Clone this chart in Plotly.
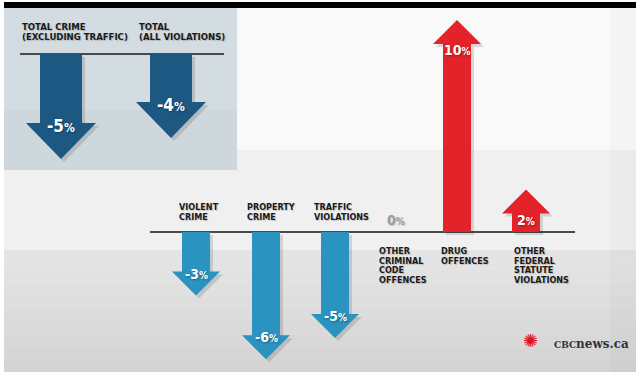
import plotly.graph_objects as go

# ---------------- data ----------------
top_categories = ["TOTAL CRIME\n(EXCLUDING TRAFFIC)", "TOTAL\n(ALL VIOLATIONS)"]
top_values = [-5, -4]

categories = [
    "VIOLENT\nCRIME",
    "PROPERTY\nCRIME",
    "TRAFFIC\nVIOLATIONS",
    "OTHER\nCRIMINAL\nCODE\nOFFENCES",
    "DRUG\nOFFENCES",
    "OTHER\nFEDERAL\nSTATUTE\nVIOLATIONS",
]
values = [-3, -6, -5, 0, 10, 2]

# ---------------- layout constants ----------------
W, H = 640, 375
x_centers = [196, 266, 335, 396, 457, 526]
label_left = [177, 245, 312, 377, 439, 512]
top_x_centers = [61, 171]
top_label_left = [20, 137]

MAIN_BASE_PX, MAIN_SCALE = 232, 21.2   # pixel row of 0 %, px per %
TOP_BASE_PX, TOP_SCALE = 54, 21.0
PLOT_TOP_PX, PLOT_BOT_PX = 8, 372
PANEL_TOP_PX, PANEL_BOT_PX = 8, 170

DARK_BLUE = "#1c5882"
BLUE = "#2a93bf"
RED = "#e3222a"
LABEL_FONT = "Liberation Sans Narrow, DejaVu Sans Condensed, Arial Narrow, sans-serif"
TXT_SHADOW = "1px 1px 2px rgba(0,0,0,0.35)"
LBL_SHADOW = "1px 1px 1px rgba(0,0,0,0.18)"


def px(x, y):
    return x / W, 1 - y / H


def arrow(cx, v, hw, hh, hl_px, scale, dx=0.0, dy_px=0.0):
    s = 1 if v > 0 else -1
    hl = hl_px / scale
    dy = -dy_px / scale
    base = v - s * hl
    xs = [cx - hw, cx - hw, cx - hh, cx, cx + hh, cx + hw, cx + hw, cx - hw]
    ys = [0, base, base, v, base, base, 0, 0]
    return [x + dx for x in xs], [y + dy for y in ys]


fig = go.Figure()

# ---------------- background shapes ----------------
shapes = []


def rect(x0, y0, x1, y1, color, layer="below"):
    a = px(x0, y0)
    b = px(x1, y1)
    shapes.append(dict(type="rect", xref="paper", yref="paper", x0=a[0], y0=b[1], x1=b[0], y1=a[1],
                       fillcolor=color, line=dict(width=0), layer=layer))


rect(4, 7, 636, 372, "#e4e4e4")
rect(4, 7, 636, 250, "#f0f0f0")
rect(237, 7, 636, 150, "rgba(255,255,255,0.6)")
for k in range(8):
    rect(4, 270 + k * 13, 636, 372, "rgba(0,0,0,0.008)")
rect(610, 7, 636, 372, "rgba(0,0,0,0.02)")
rect(4, 7, 237, 170, "#d3dce1")
rect(4, 110, 237, 170, "rgba(120,140,150,0.06)")
rect(4, 2, 636, 8, "#000000", layer="above")

# baselines
shapes.append(dict(type="line", xref="x", yref="y", x0=150, x1=575, y0=0, y1=0,
                   line=dict(color="#4a4a4a", width=2), layer="below"))
shapes.append(dict(type="line", xref="x", yref="y2", x0=20, x1=224, y0=0, y1=0,
                   line=dict(color="#4a4a4a", width=2), layer="below"))

# ---------------- arrows ----------------
annotations = []

for cx, v in zip(top_x_centers, top_values):
    xs, ys = arrow(cx, v, 21, 35, 36, TOP_SCALE, dx=3, dy_px=3)
    fig.add_trace(go.Scatter(x=xs, y=ys, xaxis="x", yaxis="y2", mode="lines", fill="toself",
                             fillcolor="rgba(0,0,0,0.13)", line=dict(width=0), hoverinfo="skip"))
    xs, ys = arrow(cx, v, 21, 35, 36, TOP_SCALE)
    fig.add_trace(go.Scatter(x=xs, y=ys, xaxis="x", yaxis="y2", mode="lines", fill="toself",
                             fillcolor=DARK_BLUE, line=dict(width=0), hoverinfo="skip"))
    annotations.append(dict(x=cx, y=v + 36 / TOP_SCALE, xref="x", yref="y2", yshift=-3,
                            text=f"<b>{v}<span style='font-size:12px'>%</span></b>",
                            showarrow=False,
                            font=dict(family=LABEL_FONT, size=17, color="white", shadow=TXT_SHADOW)))

for cx, v in zip(x_centers, values):
    if v == 0:
        annotations.append(dict(x=cx, y=0, xref="x", yref="y", yanchor="bottom", yshift=2,
                                text=f"<b>{v}<span style='font-size:10px'>%</span></b>",
                                showarrow=False,
                                font=dict(family=LABEL_FONT, size=14, color="#9c9c9c", shadow=LBL_SHADOW)))
        continue
    color = RED if v > 0 else BLUE
    xs, ys = arrow(cx, v, 14, 24, 24, MAIN_SCALE, dx=3, dy_px=3)
    fig.add_trace(go.Scatter(x=xs, y=ys, xaxis="x", yaxis="y", mode="lines", fill="toself",
                             fillcolor="rgba(0,0,0,0.13)", line=dict(width=0), hoverinfo="skip"))
    xs, ys = arrow(cx, v, 14, 24, 24, MAIN_SCALE)
    fig.add_trace(go.Scatter(x=xs, y=ys, xaxis="x", yaxis="y", mode="lines", fill="toself",
                             fillcolor=color, line=dict(width=0), hoverinfo="skip"))
    s = 1 if v > 0 else -1
    annotations.append(dict(x=cx, y=v - s * 24 / MAIN_SCALE, xref="x", yref="y",
                            yshift=-6 if v > 0 else -2,
                            text=f"<b>{v}<span style='font-size:10px'>%</span></b>",
                            showarrow=False,
                            font=dict(family=LABEL_FONT, size=14, color="white", shadow=TXT_SHADOW)))

# ---------------- category labels ----------------
for left, cat, v in zip(label_left, categories, values):
    lines = cat.split("\n")
    n = len(lines)
    for i, ln in enumerate(lines):
        if v < 0:
            shift = 15 + (n - 1 - i) * 10
        else:
            shift = -(19 + i * 9.7)
        annotations.append(dict(x=left, y=0, xref="x", yref="y", xanchor="left", yanchor="middle",
                                yshift=shift, text=f"<b>{ln}</b>", showarrow=False,
                                font=dict(family=LABEL_FONT, size=9, color="#1a1a1a", shadow=LBL_SHADOW)))

for left, cat in zip(top_label_left, top_categories):
    lines = cat.split("\n")
    n = len(lines)
    for i, ln in enumerate(lines):
        annotations.append(dict(x=left, y=0, xref="x", yref="y2", xanchor="left", yanchor="middle",
                                yshift=17 + (n - 1 - i) * 10, text=f"<b>{ln}</b>", showarrow=False,
                                font=dict(family=LABEL_FONT, size=9.5, color="#1a1a1a", shadow=LBL_SHADOW)))

# ---------------- logo ----------------
gx, gy = px(540, 353)
annotations.append(dict(x=gx, y=gy, xref="paper", yref="paper", text="✺", showarrow=False,
                        font=dict(family="DejaVu Sans", size=18, color="#d9161f")))
lx, ly = px(552, 353)
annotations.append(dict(x=lx, y=ly, xref="paper", yref="paper", xanchor="left", showarrow=False,
                        text="<b><span style='font-size:9px'>CBC</span>news.ca</b>",
                        font=dict(family="DejaVu Serif", size=12, color="#333333")))

# ---------------- axes ----------------
main_range = [(MAIN_BASE_PX - PLOT_BOT_PX) / MAIN_SCALE, (MAIN_BASE_PX - PLOT_TOP_PX) / MAIN_SCALE]
top_range = [(TOP_BASE_PX - PANEL_BOT_PX) / TOP_SCALE, (TOP_BASE_PX - PANEL_TOP_PX) / TOP_SCALE]

fig.update_layout(
    width=W, height=H,
    margin=dict(l=0, r=0, t=0, b=0),
    paper_bgcolor="white", plot_bgcolor="rgba(0,0,0,0)",
    showlegend=False,
    xaxis=dict(range=[0, W], domain=[0, 1], visible=False, fixedrange=True, anchor="y"),
    yaxis=dict(range=main_range, domain=[(H - PLOT_BOT_PX) / H, (H - PLOT_TOP_PX) / H],
               visible=False, fixedrange=True, anchor="x"),
    yaxis2=dict(range=top_range, domain=[(H - PANEL_BOT_PX) / H, (H - PANEL_TOP_PX) / H],
                visible=False, fixedrange=True, anchor="x"),
    shapes=shapes,
    annotations=annotations,
)

fig.write_html("out.html", config={"displayModeBar": False},
               post_script="document.body.style.margin='0px';")
